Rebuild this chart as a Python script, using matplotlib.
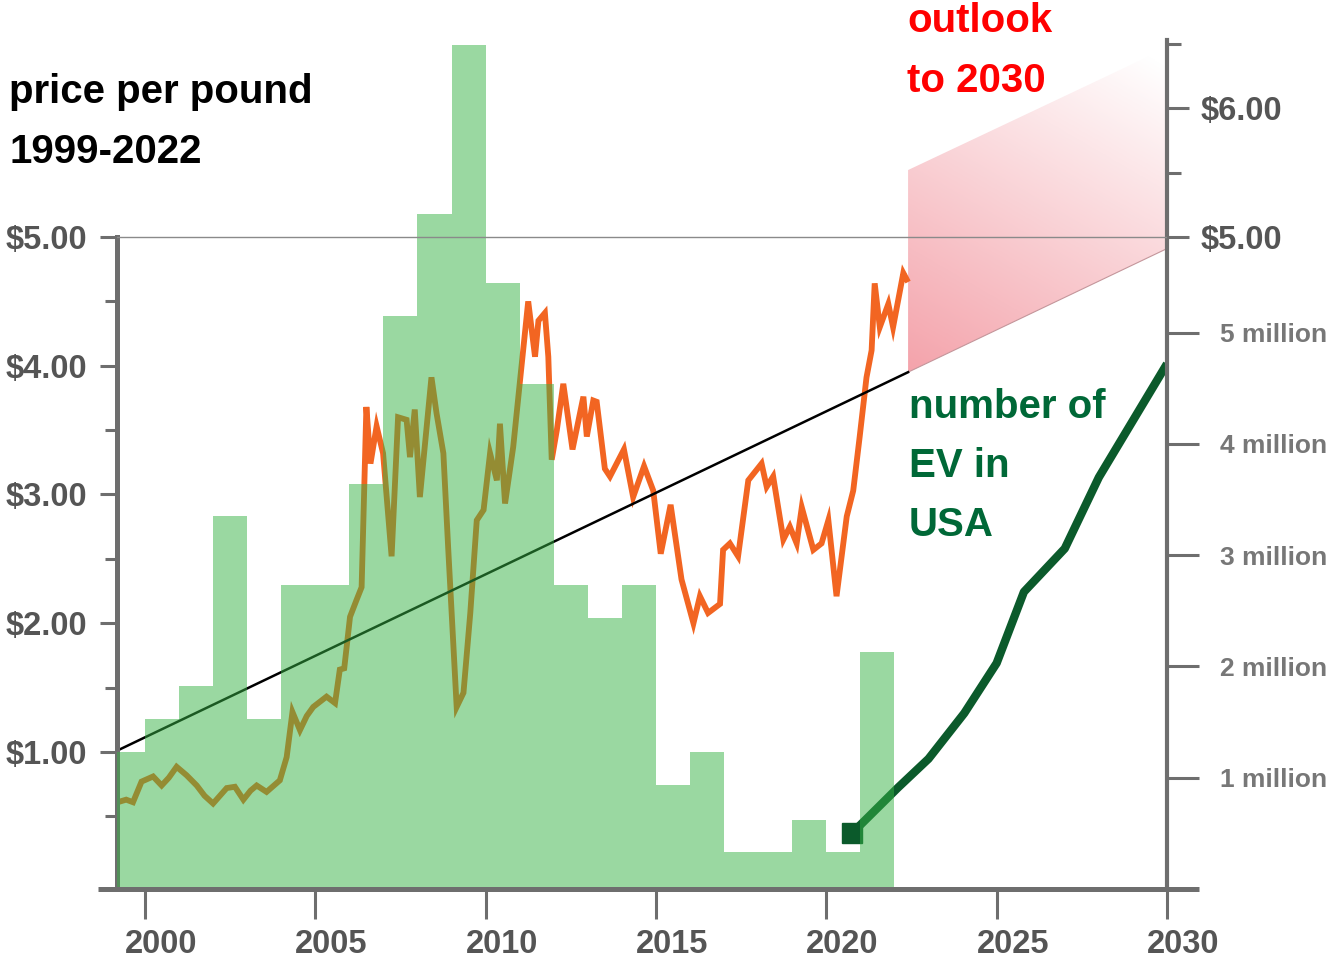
import numpy as np
import matplotlib.pyplot as plt
import matplotlib.transforms as mtransforms
from matplotlib.colors import LinearSegmentedColormap
from matplotlib.patches import Polygon

plt.rcParams['font.family'] = ['Liberation Sans', 'DejaVu Sans']
plt.rcParams['font.weight'] = 'bold'

# --- data ------------------------------------------------------------------
# yearly bars (drawn on the price scale), each bar spans [year, year + 1]
bar_years = list(range(1999, 2022))
bar_heights = [1.00, 1.26, 1.51, 2.83, 1.26, 2.30, 2.30, 3.08, 4.39, 5.18,
               6.49, 4.64, 3.86, 2.30, 2.04, 2.30, 0.74, 1.00, 0.22, 0.22,
               0.47, 0.22, 1.78]

# price per pound, 1999-2022
price_t = [1999.2, 1999.45, 1999.65, 1999.9, 2000.24, 2000.49, 2000.7, 2000.93,
           2001.22, 2001.52, 2001.75, 2002.0, 2002.2, 2002.4, 2002.64, 2002.89,
           2003.1, 2003.28, 2003.57, 2003.96, 2004.16, 2004.33, 2004.55, 2004.75,
           2004.94, 2005.33, 2005.58, 2005.72, 2005.85, 2006.02, 2006.21, 2006.36,
           2006.5, 2006.62, 2006.8, 2006.99, 2007.24, 2007.43, 2007.68, 2007.78,
           2007.92, 2008.07, 2008.41, 2008.56, 2008.76, 2008.9, 2009.15, 2009.35,
           2009.55, 2009.74, 2009.94, 2010.13, 2010.33, 2010.42, 2010.57, 2010.81,
           2011.0, 2011.25, 2011.45, 2011.55, 2011.74, 2011.84, 2011.94, 2012.09,
           2012.28, 2012.55, 2012.87, 2012.97, 2013.16, 2013.26, 2013.5, 2013.65,
           2014.06, 2014.33, 2014.65, 2014.92, 2015.14, 2015.43, 2015.75, 2016.1,
           2016.29, 2016.53, 2016.88, 2016.97, 2017.17, 2017.41, 2017.71, 2018.1,
           2018.25, 2018.44, 2018.74, 2018.93, 2019.13, 2019.28, 2019.62, 2019.86,
           2020.06, 2020.3, 2020.6, 2020.79, 2020.98, 2021.18, 2021.33, 2021.42,
           2021.57, 2021.82, 2021.96, 2022.26, 2022.36]
price_v = [0.61, 0.63, 0.61, 0.77, 0.81, 0.74, 0.80, 0.885,
           0.82, 0.74, 0.66, 0.60, 0.66, 0.72, 0.73, 0.63,
           0.70, 0.74, 0.69, 0.78, 0.96, 1.31, 1.17, 1.28,
           1.35, 1.43, 1.38, 1.64, 1.65, 2.05, 2.18, 2.28,
           3.68, 3.24, 3.53, 3.32, 2.52, 3.60, 3.58, 3.29,
           3.66, 2.98, 3.91, 3.63, 3.32, 2.59, 1.35, 1.46,
           2.08, 2.80, 2.88, 3.32, 3.11, 3.55, 2.93, 3.37,
           3.86, 4.50, 4.07, 4.35, 4.41, 4.07, 3.27, 3.50,
           3.86, 3.35, 3.76, 3.45, 3.73, 3.72, 3.20, 3.14,
           3.35, 2.98, 3.22, 3.03, 2.54, 2.92, 2.34, 2.00,
           2.21, 2.08, 2.15, 2.57, 2.62, 2.52, 3.11, 3.24,
           3.06, 3.14, 2.65, 2.75, 2.62, 2.90, 2.57, 2.62,
           2.80, 2.21, 2.83, 3.03, 3.45, 3.91, 4.12, 4.64,
           4.30, 4.48, 4.30, 4.72, 4.67]

# trend line and outlook band
trend_years = [1999.18, 2022.4]
trend_vals = [1.01, 3.95]
outlook_years = [2022.4, 2030.0]
outlook_low = [3.95, 4.91]
outlook_high = [5.52, 6.47]

# number of EVs in the USA (millions)
ev_years = [2020.75, 2022.1, 2023.0, 2024.05, 2025.0, 2025.8, 2027.0, 2028.0, 2030.0]
ev_vals = [0.50, 0.91, 1.17, 1.58, 2.03, 2.67, 3.06, 3.70, 4.72]

price_ticks = [1, 2, 3, 4, 5]
price_minor = [0.5, 1.5, 2.5, 3.5, 4.5]
right_ticks = [5, 6]
right_minor = [5.5, 6.5]
ev_ticks = [1, 2, 3, 4, 5]
year_ticks = [2000, 2005, 2010, 2015, 2020, 2025, 2030]

# --- layout ------------------------------------------------------------------
W, H = 1333, 961
X_MIN, X_MAX = 1999.18, 2030.0
Y_MIN, Y_MAX = -0.064, 6.53
EV_MAX = 7.63
AXIS_GRAY = '#6e6e6e'
LABEL_GRAY = '#555555'

fig = plt.figure(figsize=(W / 100, H / 100), dpi=100)
ax = fig.add_axes([117 / W, 1 - 889 / H, (1167 - 117) / W, (889 - 40) / H])
ax_ev = ax.twinx()
ax_r = ax.twinx()
ax.set_zorder(ax_ev.get_zorder() + 2)
ax.patch.set_visible(False)

for a in (ax, ax_ev, ax_r):
    a.set_xlim(X_MIN, X_MAX)
    for s in a.spines.values():
        s.set_visible(False)
ax.set_ylim(Y_MIN, Y_MAX)
ax_r.set_ylim(Y_MIN, Y_MAX)
ax_ev.set_ylim(0, EV_MAX)

# outlook band with a diagonal pink -> white gradient
cmap = LinearSegmentedColormap.from_list('outlook', ['#f4a3ab', '#ffffff'])
gx, gy = np.meshgrid(np.linspace(0, 1, 300), np.linspace(0, 1, 300))
shade = np.clip(0.33 * gx + 0.71 * gy, 0, 1)
im = ax.imshow(shade, cmap=cmap, vmin=0, vmax=1, origin='lower', aspect='auto',
               extent=(outlook_years[0], outlook_years[1], outlook_low[0], outlook_high[1]),
               zorder=1)
verts = list(zip(outlook_years, outlook_low)) + list(zip(outlook_years[::-1], outlook_high[::-1]))
band = Polygon(verts, closed=True, facecolor='none', edgecolor='none')
ax.add_patch(band)
im.set_clip_path(band)
ax.plot(outlook_years, outlook_low, color='#c4969b', lw=0.8, zorder=1.5)

# lines under the translucent bars
ax.plot(price_t, price_v, color='#f26522', lw=4.2, zorder=2, solid_joinstyle='miter')
ax.plot(trend_years, trend_vals, color='black', lw=1.8, zorder=2.2)
ax.bar(bar_years, np.array(bar_heights) - Y_MIN, bottom=Y_MIN, width=1.0, align='edge',
       color='#37b345', alpha=0.5, linewidth=0, zorder=3)
ax.axhline(5.0, color='#8a8a8a', lw=1.0, zorder=4)

ax_ev.plot(ev_years, ev_vals, color='#0b5a2b', lw=6, solid_capstyle='butt', zorder=2)
ax_ev.plot(ev_years[0], ev_vals[0], marker='s', ms=14, color='#0b5a2b', zorder=3)

# axis lines
ax.spines['left'].set_visible(True)
ax.spines['left'].set_bounds(Y_MIN, 5.0)
ax.spines['left'].set_linewidth(3.6)
ax.spines['left'].set_color(AXIS_GRAY)
ax.spines['right'].set_visible(True)
ax.spines['right'].set_linewidth(3.0)
ax.spines['right'].set_color(AXIS_GRAY)
ax.plot([-19 / 1050, 1 + 32 / 1050], [0, 0], transform=ax.transAxes, clip_on=False,
        color=AXIS_GRAY, lw=3.6, solid_capstyle='butt', zorder=6)

# left price ticks
ax.set_yticks(price_ticks)
ax.set_yticklabels([r'\$%d.00' % v for v in price_ticks])
ax.set_yticks(price_minor, minor=True)
ax.tick_params(axis='y', which='major', left=True, right=False, length=12.2, width=2.2,
               color=AXIS_GRAY, labelsize=23.5, labelcolor=LABEL_GRAY, pad=9)
ax.tick_params(axis='y', which='minor', left=True, right=False, length=8.6, width=2.2,
               color=AXIS_GRAY)

# right price ticks
ax_r.set_yticks(right_ticks)
ax_r.set_yticklabels([r'\$%d.00' % v for v in right_ticks])
ax_r.set_yticks(right_minor, minor=True)
ax_r.tick_params(axis='y', which='major', length=16, width=2.2, color=AXIS_GRAY,
                 labelsize=23.5, labelcolor=LABEL_GRAY, pad=8)
ax_r.tick_params(axis='y', which='minor', length=10, width=2.2, color=AXIS_GRAY)
ax_r.tick_params(axis='x', bottom=False, labelbottom=False)

# right EV ticks
ax_ev.set_yticks(ev_ticks)
ax_ev.set_yticklabels(['%d million' % v for v in ev_ticks])
ax_ev.tick_params(axis='y', length=23, width=2.2, color=AXIS_GRAY, labelsize=19,
                  labelcolor='#777777', pad=15)
ax_ev.tick_params(axis='x', bottom=False, labelbottom=False)

# year ticks, labels nudged a little to the right of the tick
ax.set_xticks(year_ticks)
ax.set_xticklabels([str(y) for y in year_ticks])
ax.tick_params(axis='x', length=21.6, width=2.2, color=AXIS_GRAY, labelsize=23.5,
               labelcolor=LABEL_GRAY, pad=7)
nudge = mtransforms.ScaledTranslation(16 / 100, 0, fig.dpi_scale_trans)
for lab in ax.get_xticklabels():
    lab.set_transform(lab.get_transform() + nudge)

# annotations
def ftext(x, y, s, color):
    fig.text(x / W, 1 - y / H, s, color=color, fontsize=29, fontweight='bold',
             ha='left', va='baseline')

ftext(9, 103, 'price per pound', 'black')
ftext(9, 163, '1999-2022', 'black')
ftext(907, 32, 'outlook', '#ff0000')
ftext(907, 92, 'to 2030', '#ff0000')
ftext(909, 418, 'number of', '#006837')
ftext(909, 477, 'EV in', '#006837')
ftext(909, 536, 'USA', '#006837')

fig.savefig('out.png', dpi=100)
